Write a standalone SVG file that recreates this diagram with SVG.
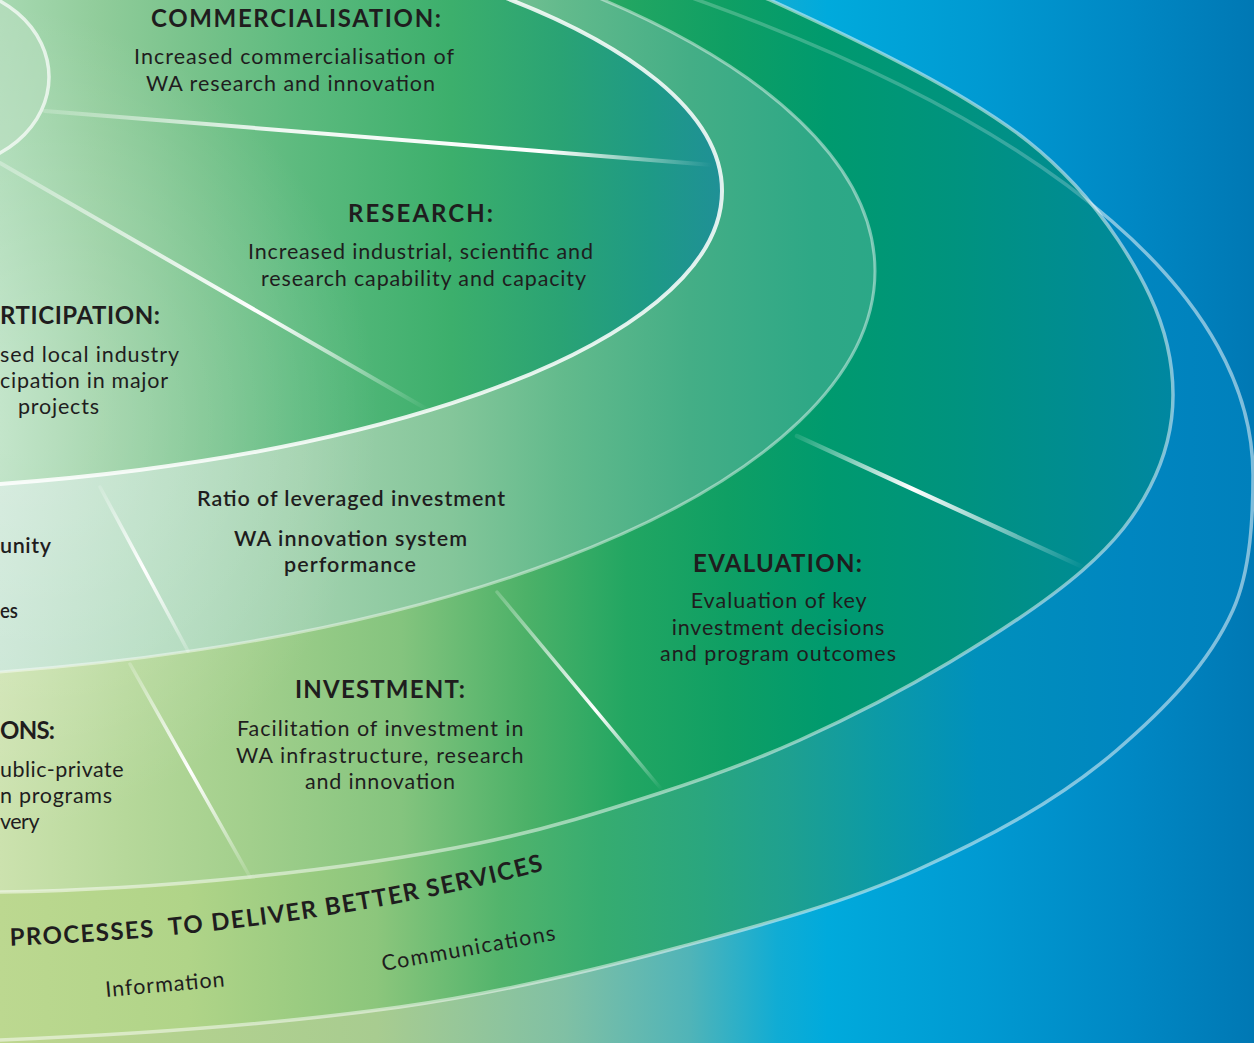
<svg xmlns="http://www.w3.org/2000/svg" width="1254" height="1043" viewBox="0 0 1254 1043">
<style>
.h{font-family:Lato,'Open Sans','Liberation Sans',sans-serif;font-weight:700;font-size:24px;fill:#1f1d1e}
.b{font-family:Lato,'Open Sans','Liberation Sans',sans-serif;font-weight:400;font-size:21.5px;fill:#1f1d1e}
.m{font-family:Lato,'Open Sans','Liberation Sans',sans-serif;font-weight:600;font-size:21.5px;fill:#1f1d1e}
.ring{fill:none;stroke:#ffffff}
</style>
<defs>
<linearGradient id="gBg" gradientUnits="userSpaceOnUse" x1="0" y1="0" x2="1254" y2="0">
<stop offset="0" stop-color="#bdd68e"/><stop offset="0.3" stop-color="#a8cc90"/><stop offset="0.45" stop-color="#80c0a4"/><stop offset="0.55" stop-color="#50b4b8"/><stop offset="0.62" stop-color="#10acd4"/><stop offset="0.66" stop-color="#00aadc"/><stop offset="0.78" stop-color="#009ad2"/><stop offset="0.9" stop-color="#0088c4"/><stop offset="1" stop-color="#0078b4"/>
</linearGradient>
<linearGradient id="gOut" gradientUnits="userSpaceOnUse" x1="0" y1="0" x2="1254" y2="0">
<stop offset="0" stop-color="#bcd890"/><stop offset="0.15" stop-color="#b0d488"/><stop offset="0.3" stop-color="#8cc67c"/><stop offset="0.4" stop-color="#52b46c"/><stop offset="0.48" stop-color="#36ac70"/><stop offset="0.56" stop-color="#2aa67e"/><stop offset="0.63" stop-color="#1ea090"/><stop offset="0.7" stop-color="#0c9aa6"/><stop offset="0.78" stop-color="#0090bc"/><stop offset="0.9" stop-color="#0086c0"/><stop offset="1" stop-color="#0080bc"/>
</linearGradient>
<linearGradient id="gIn" gradientUnits="userSpaceOnUse" x1="0" y1="0" x2="1254" y2="0">
<stop offset="0" stop-color="#cce2ae"/><stop offset="0.1" stop-color="#b6d89a"/><stop offset="0.2" stop-color="#a2cf8c"/><stop offset="0.32" stop-color="#84c47e"/><stop offset="0.42" stop-color="#4cb168"/><stop offset="0.5" stop-color="#22a662"/><stop offset="0.58" stop-color="#0f9f64"/><stop offset="0.66" stop-color="#009a6e"/><stop offset="0.76" stop-color="#00937e"/><stop offset="0.86" stop-color="#008c92"/><stop offset="0.95" stop-color="#0086a4"/>
</linearGradient>
<linearGradient id="gB" gradientUnits="userSpaceOnUse" x1="0" y1="0" x2="1254" y2="0">
<stop offset="0" stop-color="#c6e4d2"/><stop offset="0.12" stop-color="#b4dcc0"/><stop offset="0.24" stop-color="#a2d2ae"/><stop offset="0.36" stop-color="#84c69a"/><stop offset="0.45" stop-color="#62ba8c"/><stop offset="0.55" stop-color="#44ae86"/><stop offset="0.65" stop-color="#2ea886"/><stop offset="0.72" stop-color="#2aa888"/>
</linearGradient>
<linearGradient id="gA" gradientUnits="userSpaceOnUse" x1="0" y1="0" x2="1254" y2="0">
<stop offset="0" stop-color="#a8d9b2"/><stop offset="0.08" stop-color="#90cc9a"/><stop offset="0.16" stop-color="#76c28a"/><stop offset="0.24" stop-color="#5cba7e"/><stop offset="0.36" stop-color="#3caf6c"/><stop offset="0.447" stop-color="#2aa374"/><stop offset="0.518" stop-color="#1e9a86"/><stop offset="0.582" stop-color="#1f8f98"/>
</linearGradient>
<radialGradient id="gGlow" gradientUnits="userSpaceOnUse" cx="-40" cy="420" r="420">
<stop offset="0" stop-color="#ffffff" stop-opacity="0.35"/><stop offset="1" stop-color="#ffffff" stop-opacity="0"/>
</radialGradient>
<linearGradient id="s1" gradientUnits="userSpaceOnUse" x1="45" y1="111" x2="712" y2="165"><stop offset="0" stop-color="#fff" stop-opacity="0.2"/><stop offset="0.35" stop-color="#fff" stop-opacity="0.9"/><stop offset="0.75" stop-color="#fff" stop-opacity="1"/><stop offset="1" stop-color="#fff" stop-opacity="0"/></linearGradient>
<linearGradient id="s2" gradientUnits="userSpaceOnUse" x1="0" y1="163" x2="430" y2="411"><stop offset="0" stop-color="#fff" stop-opacity="0.3"/><stop offset="0.6" stop-color="#fff" stop-opacity="1"/><stop offset="1" stop-color="#fff" stop-opacity="0"/></linearGradient>
<linearGradient id="s3" gradientUnits="userSpaceOnUse" x1="100" y1="487" x2="188" y2="651"><stop offset="0" stop-color="#fff" stop-opacity="0.15"/><stop offset="0.5" stop-color="#fff" stop-opacity="1"/><stop offset="1" stop-color="#fff" stop-opacity="0.2"/></linearGradient>
<linearGradient id="s4" gradientUnits="userSpaceOnUse" x1="130" y1="664" x2="250" y2="877"><stop offset="0" stop-color="#fff" stop-opacity="0.2"/><stop offset="0.5" stop-color="#fff" stop-opacity="1"/><stop offset="1" stop-color="#fff" stop-opacity="0.1"/></linearGradient>
<linearGradient id="s5" gradientUnits="userSpaceOnUse" x1="497" y1="592" x2="662" y2="790"><stop offset="0" stop-color="#fff" stop-opacity="0.2"/><stop offset="0.6" stop-color="#fff" stop-opacity="1"/><stop offset="1" stop-color="#fff" stop-opacity="0"/></linearGradient>
<linearGradient id="s6" gradientUnits="userSpaceOnUse" x1="797" y1="436" x2="1085" y2="568"><stop offset="0" stop-color="#fff" stop-opacity="0.1"/><stop offset="0.4" stop-color="#fff" stop-opacity="1"/><stop offset="1" stop-color="#fff" stop-opacity="0"/></linearGradient>
<path id="pIn" d="M -300 885 L 0 892 C 91.7 890.7 170 885.2 250 877 C 330 868.8 411.7 857 480 843 C 548.3 829 606.7 810.2 660 793 C 713.3 775.8 751.7 761.8 800 740 C 848.3 718.2 902.8 690.3 950 662 C 997.2 633.7 1049.7 599.2 1083 570 C 1116.3 540.8 1135 516.2 1150 487 C 1165 457.8 1173 426.8 1173 395 C 1173 363.2 1166.3 331 1150 296 C 1133.7 261 1105.5 217.7 1075 185 C 1044.5 152.3 1017.8 130.8 967 100 C 916.2 69.2 839.5 31.7 770 0 L 550 -90 L -300 -90 Z"/>
<path id="pOut" d="M -300 1050 L 0 1040 C 133.7 1034.6 267.5 1025.5 400 1007 C 494.5 993.8 587.8 971.9 680 947 C 760.2 925.3 841.2 904.1 917 870 C 987.9 838.1 1058.1 800.7 1117 750 C 1162.9 710.5 1208.2 665.3 1233 610 C 1251 570.1 1253 515 1253 475 A 1953 680 0 0 0 707 3.4 L 450 -90 L -300 -90 Z"/>
<clipPath id="cIn"><use href="#pIn"/></clipPath>
<path id="tp" d="M 0 946 C 200 940 400 910 560 866"/>
</defs>

<rect x="0" y="0" width="1254" height="1043" fill="url(#gBg)"/>

<g id="rings">
<use href="#pOut" fill="url(#gOut)"/>
<use href="#pOut" class="ring" stroke-opacity="0.5" stroke-width="3.5"/>
<use href="#pIn" fill="url(#gIn)"/>
<use href="#pOut" class="ring" stroke-opacity="0.22" stroke-width="3.5" clip-path="url(#cIn)"/>
<use href="#pIn" class="ring" stroke-opacity="0.5" stroke-width="3.5"/>
<ellipse cx="-200" cy="271" rx="1075" ry="408" fill="url(#gB)"/>
<ellipse cx="-200" cy="271" rx="1075" ry="408" class="ring" stroke-opacity="0.45" stroke-width="3"/>
<ellipse cx="-200" cy="191" rx="922" ry="300" fill="url(#gA)"/>
<rect x="0" y="0" width="500" height="900" fill="url(#gGlow)"/>
<ellipse cx="-200" cy="191" rx="922" ry="300" class="ring" stroke-opacity="0.85" stroke-width="4"/>
<ellipse cx="-60" cy="77" rx="109" ry="91" fill="#bde0c4" fill-opacity="0.5"/>
<ellipse cx="-60" cy="77" rx="109" ry="91" class="ring" stroke-opacity="0.7" stroke-width="3.5"/>
</g>

<g id="connectors" stroke-linecap="round">
<line x1="45" y1="111" x2="712" y2="165" stroke="url(#s1)" stroke-width="4"/>
<line x1="0" y1="163" x2="430" y2="411" stroke="url(#s2)" stroke-width="4"/>
<line x1="100" y1="487" x2="188" y2="651" stroke="url(#s3)" stroke-width="3.5"/>
<line x1="130" y1="664" x2="250" y2="877" stroke="url(#s4)" stroke-width="3.5"/>
<line x1="497" y1="592" x2="662" y2="790" stroke="url(#s5)" stroke-width="3.5"/>
<line x1="797" y1="436" x2="1085" y2="568" stroke="url(#s6)" stroke-width="4.5"/>
</g>

<g id="commercialisation">
<text class="h" x="151" y="26.7" textLength="290">COMMERCIALISATION:</text>
<text class="b"><tspan x="134" y="64" textLength="320">Increased commercialisation of</tspan><tspan x="146" y="90.5" textLength="289">WA research and innovation</tspan></text>
</g>
<g id="research">
<text class="h" x="348" y="221.7" textLength="145">RESEARCH:</text>
<text class="b"><tspan x="248" y="259" textLength="345">Increased industrial, scientific and</tspan><tspan x="261" y="285.5" textLength="325">research capability and capacity</tspan></text>
</g>
<g id="participation">
<text class="h" x="0" y="324" textLength="160">RTICIPATION:</text>
<text class="b"><tspan x="0" y="361.5" textLength="179">sed local industry</tspan><tspan x="0" y="388" textLength="168">cipation in major</tspan><tspan x="18" y="414" textLength="81">projects</tspan></text>
</g>
<g id="ratio">
<text class="m"><tspan x="197" y="506" textLength="308">Ratio of leveraged investment</tspan><tspan x="234" y="546" textLength="233">WA innovation system</tspan><tspan x="284" y="572" textLength="132">performance</tspan></text>
</g>
<g id="community">
<text class="m"><tspan x="0" y="553" textLength="51">unity</tspan><tspan x="0" y="618" textLength="18" lengthAdjust="spacingAndGlyphs">es</tspan></text>
</g>
<g id="evaluation">
<text class="h" x="693" y="571.5" textLength="169">EVALUATION:</text>
<text class="b"><tspan x="690.7" y="608" textLength="176">Evaluation of key</tspan><tspan x="671.7" y="634.5" textLength="212.6">investment decisions</tspan><tspan x="660" y="660.5" textLength="236">and program outcomes</tspan></text>
</g>
<g id="investment">
<text class="h" x="295" y="698" textLength="170">INVESTMENT:</text>
<text class="b"><tspan x="237" y="736" textLength="286.5">Facilitation of investment in</tspan><tspan x="236" y="762.5" textLength="287.5">WA infrastructure, research</tspan><tspan x="305" y="788.5" textLength="150">and innovation</tspan></text>
</g>
<g id="collaborations">
<text class="h" x="0" y="739" textLength="55">ONS:</text>
<text class="b"><tspan x="0" y="777" textLength="123.5">ublic-private</tspan><tspan x="0" y="803" textLength="112">n programs</tspan><tspan x="0" y="829" textLength="39.5">very</tspan></text>
</g>
<g id="processes">
<text class="h" font-size="23" xml:space="preserve"><textPath href="#tp" startOffset="10" textLength="540">PROCESSES  TO DELIVER BETTER SERVICES</textPath></text>
<text class="b" font-size="21" transform="translate(106 997) rotate(-5.1)" textLength="119.5">Information</text>
<text class="b" font-size="21" transform="translate(383 971) rotate(-10.2)" textLength="176">Communications</text>
</g>
</svg>
